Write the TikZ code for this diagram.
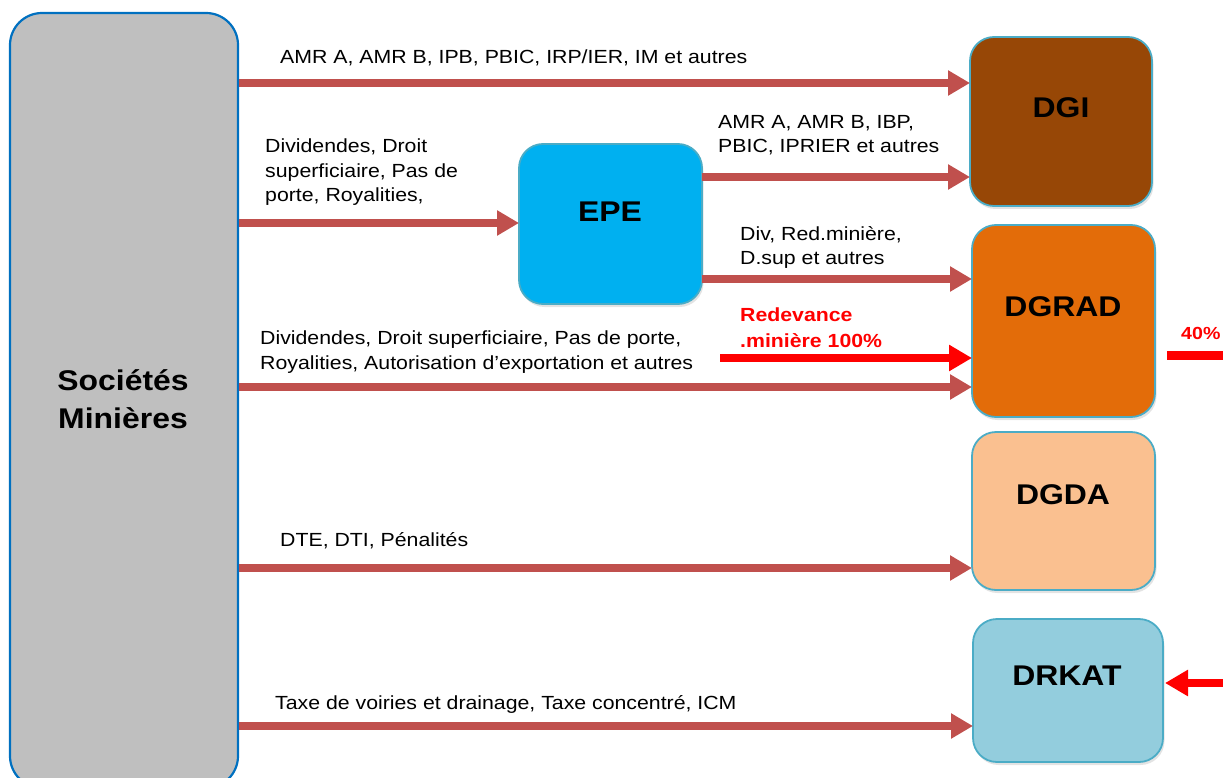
\documentclass[tikz,border=0pt]{standalone}
\usepackage{fontspec}
\setmainfont{Liberation Sans}[FakeStretch=1.12]
\usetikzlibrary{arrows.meta,shadows}
\definecolor{arrbrown}{HTML}{C0504D}
\definecolor{pureRed}{HTML}{FF0000}
\definecolor{smgray}{HTML}{BFBFBF}
\definecolor{smblue}{HTML}{0070C0}
\definecolor{boxline}{HTML}{4BACC6}
\definecolor{dgifill}{HTML}{974706}
\definecolor{dgradfill}{HTML}{E36C09}
\definecolor{dgdafill}{HTML}{FAC090}
\definecolor{drkatfill}{HTML}{93CDDD}
\definecolor{epefill}{HTML}{00B0F0}
\tikzset{
  box/.style={draw=boxline, line width=1.8pt, rounded corners=24pt, inner sep=0pt, outer sep=0pt,
    drop shadow={opacity=0.22, shadow xshift=1.5pt, shadow yshift=-3pt}},
  title/.style={font=\fontsize{28.5}{34}\selectfont\bfseries, anchor=base, inner sep=0pt},
  lbl/.style={font=\fontsize{19}{24.5}\selectfont, anchor=base west, inner sep=0pt},
  redlbl/.style={font=\fontsize{19}{26}\selectfont\bfseries, text=pureRed, anchor=base west, inner sep=0pt},
  flow/.style={draw=arrbrown, line width=7.5pt, -{Triangle[length=22pt,width=24pt]}, shorten >=0pt},
  redflow/.style={draw=pureRed, line width=8.5pt, -{Triangle[length=23pt,width=25pt]}},
  redline/.style={draw=pureRed, line width=9pt},
}
\begin{document}
\begin{tikzpicture}[x=1pt,y=-1pt]
\useasboundingbox (0,0) rectangle (1223,778);
% boxes
\node[draw=smblue, line width=2.2pt, fill=smgray, rounded corners=32pt, inner sep=0pt,
      minimum width=228pt, minimum height=775pt] (SM) at (124,400.5) {};
\node[box, fill=dgifill, minimum width=182pt, minimum height=169pt] (DGI) at (1061,121.5) {};
\node[box, fill=dgradfill, minimum width=183pt, minimum height=192pt] (DGRAD) at (1063.5,321) {};
\node[box, fill=dgdafill, minimum width=183pt, minimum height=158pt] (DGDA) at (1063.5,511) {};
\node[box, fill=drkatfill, minimum width=190pt, minimum height=143pt] (DRKAT) at (1068,690.5) {};
\node[box, fill=epefill, minimum width=183pt, minimum height=160pt] (EPE) at (610.5,224) {};
% titles
\node[title] (tSM1) at (123,390) {Sociétés};
\node[title] (tSM2) at (123,428) {Minières};
\node[title] (tDGI) at (1061,118) {DGI};
\node[title] (tDGRAD) at (1063,316) {DGRAD};
\node[title] (tDGDA) at (1063,504) {DGDA};
\node[title] (tDRKAT) at (1067,685) {DRKAT};
\node[title] (tEPE) at (610,222) {EPE};
% level coordinates
\coordinate (y1) at (0,83);
\coordinate (y2) at (0,223);
\coordinate (y3) at (0,177);
\coordinate (y4) at (0,279);
\coordinate (y5) at (0,358);
\coordinate (y6) at (0,387);
\coordinate (y7) at (0,568);
\coordinate (y8) at (0,726);
\coordinate (rs) at (720,358);
\coordinate (e40) at (1240,355);
\coordinate (eK) at (1240,683);
% connectors
\draw[flow] (SM.east |- y1) -- (DGI.west |- y1);
\draw[flow] (SM.east |- y2) -- (EPE.west |- y2);
\draw[flow] (EPE.east |- y3) -- (DGI.west |- y3);
\draw[flow] (EPE.east |- y4) -- (DGRAD.west |- y4);
\draw[redflow] (rs) -- (DGRAD.west |- y5);
\draw[flow] (SM.east |- y6) -- (DGRAD.west |- y6);
\draw[flow] (SM.east |- y7) -- (DGDA.west |- y7);
\draw[flow] (SM.east |- y8) -- (DRKAT.west |- y8);
\draw[redline] ([xshift=12pt]DGRAD.east |- e40) -- (e40);
\draw[redflow] (eK) -- ([xshift=2pt]DRKAT.east |- eK);
% labels
\node[lbl] (l1) at (280,63.5) {AMR A, AMR B, IPB, PBIC, IRP/IER, IM et autres};
\node[lbl, align=left, anchor=north west] (l2) at (265,139) {Dividendes, Droit\\superficiaire, Pas de\\porte, Royalities,};
\node[lbl, align=left, anchor=north west] (l3) at (718,115) {AMR A, AMR B, IBP,\\PBIC, IPRIER et autres};
\node[lbl, align=left, anchor=north west] (l4) at (740,226) {Div, Red.minière,\\D.sup et autres};
\node[redlbl, align=left, anchor=north west] (l5) at (740,308) {Redevance\\.minière 100\%};
\node[lbl, align=left, anchor=north west] (l6) at (260,331) {Dividendes, Droit superficiaire, Pas de porte,\\Royalities, Autorisation d’exportation et autres};
\node[lbl] (l7) at (280,546.5) {DTE, DTI, Pénalités};
\node[lbl] (l8) at (275,709.5) {Taxe de voiries et drainage, Taxe concentré, ICM};
\node[redlbl, font=\fontsize{17.5}{22}\selectfont\bfseries] (l9) at (1181,339.5) {40\%};
\end{tikzpicture}
\end{document}
